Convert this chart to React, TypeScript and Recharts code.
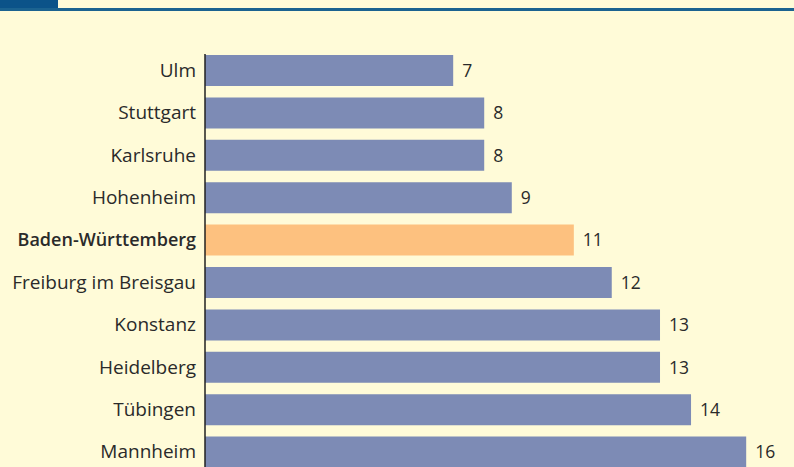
import React from "react";
import { BarChart, Bar, XAxis, YAxis, Cell, LabelList } from "recharts";

const cities = [
  "Ulm",
  "Stuttgart",
  "Karlsruhe",
  "Hohenheim",
  "Baden-Württemberg",
  "Freiburg im Breisgau",
  "Konstanz",
  "Heidelberg",
  "Tübingen",
  "Mannheim",
];
const values = [7.2, 8.1, 8.1, 8.9, 10.7, 11.8, 13.2, 13.2, 14.1, 15.7];
const highlight = "Baden-Württemberg";

const data = cities.map((name, i) => ({ name, value: values[i] }));

const FONT = "'Open Sans', 'Noto Sans', sans-serif";
const BG = "#FFFBD8";

const Tick = (props: any) => {
  const { x, y, payload } = props;
  const bold = payload.value === highlight;
  return (
    <text
      x={x}
      y={y}
      dy={6.5}
      textAnchor="end"
      fill="#2a2a2a"
      fontFamily={FONT}
      fontSize={bold ? 18 : 19}
      fontWeight={bold ? 600 : 400}
    >
      {payload.value}
    </text>
  );
};

export default function App() {
  return (
    <div
      style={{
        position: "absolute",
        left: 0,
        top: 0,
        width: 794,
        height: 467,
        background: BG,
        overflow: "hidden",
      }}
    >
      <div style={{ position: "absolute", left: 0, top: 0, width: 58, height: 8, background: "#0B5389" }} />
      <div style={{ position: "absolute", left: 0, top: 8, width: 794, height: 3, background: "#1B6390" }} />
      <div style={{ position: "absolute", left: 0, top: 0 }}>
        <BarChart
          width={794}
          height={480}
          data={data}
          layout="vertical"
          margin={{ top: 49, right: 3, bottom: 7, left: 0 }}
          barSize={31}
        >
          <XAxis type="number" domain={[0, 17]} hide />
          <YAxis
            type="category"
            dataKey="name"
            width={205}
            tickLine={false}
            axisLine={{ stroke: "#222", strokeWidth: 1.5, strokeDasharray: "0 5 2000" }}
            tick={<Tick />}
            tickMargin={3}
            interval={0}
          />
          <Bar dataKey="value" isAnimationActive={false}>
            {data.map((d) => (
              <Cell key={d.name} fill={d.name === highlight ? "#FDC17F" : "#7D8BB5"} />
            ))}
            <LabelList
              dataKey="value"
              position="right"
              offset={9}
              formatter={(v: any) => Math.round(Number(v))}
              fill="#2a2a2a"
              fontFamily={FONT}
              fontSize={17.5}
            />
          </Bar>
        </BarChart>
      </div>
    </div>
  );
}
